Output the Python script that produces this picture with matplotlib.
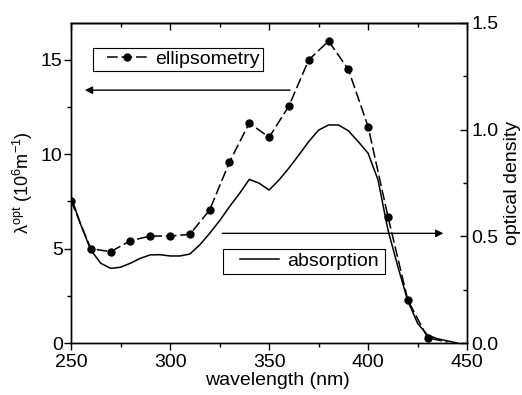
import matplotlib
matplotlib.use("Agg")
import matplotlib.pyplot as plt
from matplotlib.patches import Rectangle

plt.rcParams['font.family'] = ['Liberation Sans', 'DejaVu Sans']
plt.rcParams['mathtext.fontset'] = 'custom'
plt.rcParams['mathtext.rm'] = 'Liberation Sans'

# ellipsometry points (left axis, 10^6 m^-1)
wl_ell = [250, 260, 270, 280, 290, 300, 310, 320, 330, 340,
          350, 360, 370, 380, 390, 400, 410, 420, 430, 440]
ell = [7.55, 5.0, 4.84, 5.42, 5.67, 5.67, 5.76, 7.05, 9.59, 11.66,
       10.9, 12.56, 15.0, 16.0, 14.5, 11.46, 6.7, 2.28, 0.28, 0.05]

# absorption spectrum (right axis, optical density)
wl_abs = [250, 255, 260, 265, 270, 275, 280, 285, 290, 295, 300, 305,
          310, 315, 320, 325, 330, 335, 340, 345, 350, 355, 360, 365,
          370, 375, 380, 385, 390, 395, 400, 405, 410, 415, 420, 425,
          430, 435, 440, 445]
od = [0.686, 0.553, 0.436, 0.374, 0.35, 0.355, 0.374, 0.397, 0.413, 0.414,
      0.408, 0.408, 0.417, 0.46, 0.514, 0.573, 0.639, 0.70, 0.767, 0.749,
      0.717, 0.764, 0.82, 0.881, 0.944, 0.998, 1.022, 1.022, 0.995, 0.944,
      0.889, 0.764, 0.53, 0.358, 0.198, 0.092, 0.037, 0.02, 0.01, 0.0]

fig = plt.figure(figsize=(5.22, 3.95), dpi=100)
ax = fig.add_axes([0.136, 0.1316, 0.759, 0.8102])
ax2 = ax.twinx()

l1, = ax.plot(wl_ell, ell, color='black', lw=1.1, ls=(0, (7, 2.5)),
              marker='o', markersize=5, markevery=list(range(len(wl_ell) - 1)),
              label='ellipsometry')
l2, = ax2.plot(wl_abs, od, color='black', lw=1.1, label='absorption')

ax.set_xlim(250, 450)
ax.set_ylim(0, 16.96)
ax2.set_ylim(0, 1.5)

ax.set_xticks([250, 300, 350, 400, 450])
ax.set_xticks([275, 325, 375, 425], minor=True)
ax.set_yticks([0, 5, 10, 15])
ax.set_yticks([2.5, 7.5, 12.5], minor=True)
ax2.set_yticks([0.0, 0.5, 1.0, 1.5])
ax2.set_yticks([0.25, 0.75, 1.25], minor=True)
ax2.set_yticklabels(['0.0', '0.5', '1.0', '1.5'])

ax.tick_params(axis='both', which='major', direction='out', length=5, width=1, labelsize=14, pad=1)
ax.tick_params(axis='x', which='major', pad=3)
ax.tick_params(axis='both', which='minor', direction='out', length=3, width=1)
ax2.tick_params(axis='y', which='major', direction='in', length=5, width=1, labelsize=14, pad=3)
ax2.tick_params(axis='y', which='minor', direction='in', length=3, width=1)

top = ax.secondary_xaxis('top')
top.set_xticks([250, 300, 350, 400, 450])
top.set_xticks([275, 325, 375, 425], minor=True)
top.tick_params(which='major', direction='in', length=5, width=1)
top.tick_params(which='minor', direction='in', length=3, width=1)
top.set_xticklabels([])

for a in (ax, ax2):
    for s in a.spines.values():
        s.set_linewidth(1)
top.spines['top'].set_linewidth(1)

ax.set_xlabel('wavelength (nm)', fontsize=14)
ax.xaxis.set_label_coords(0.52, -0.09, transform=ax.transAxes)
ax.xaxis.label.set_va('top')
ax.set_ylabel('λ$^{\\mathrm{opt}}$ (10$^6$m$^{-1}$)', fontsize=13)
ax.yaxis.set_label_coords(-0.09, 0.5, transform=ax.transAxes)
ax2.set_ylabel('optical density', fontsize=14, labelpad=4)

ax.annotate('', xy=(257, 13.4), xytext=(360.6, 13.4),
            arrowprops=dict(arrowstyle='-|>', lw=1, color='black',
                            shrinkA=0, shrinkB=0, mutation_scale=11))
ax2.annotate('', xy=(438, 0.514), xytext=(326.4, 0.514),
             arrowprops=dict(arrowstyle='-|>', lw=1, color='black',
                             shrinkA=0, shrinkB=0, mutation_scale=11))

# legend boxes drawn separately so the padding matches the original
ax2.add_patch(Rectangle((0.0556, 0.85), 0.429, 0.0728, transform=ax2.transAxes,
                        facecolor='white', edgecolor='black', lw=0.8, zorder=4))
ax2.add_patch(Rectangle((0.384, 0.2156), 0.409, 0.0797, transform=ax2.transAxes,
                        facecolor='white', edgecolor='black', lw=0.8, zorder=4))

leg1 = ax2.legend(handles=[l1], loc='center left', bbox_to_anchor=(0.0909, 0.8866),
                  borderaxespad=0, borderpad=0, fontsize=14, frameon=False,
                  handlelength=2.1, handletextpad=0.36)
leg1.set_zorder(5)
ax2.add_artist(leg1)

leg2 = ax2.legend(handles=[l2], loc='center left', bbox_to_anchor=(0.4268, 0.255),
                  borderaxespad=0, borderpad=0, fontsize=14, frameon=False,
                  handlelength=2.0, handletextpad=0.4)
leg2.set_zorder(5)

fig.savefig('out.png', dpi=100)
